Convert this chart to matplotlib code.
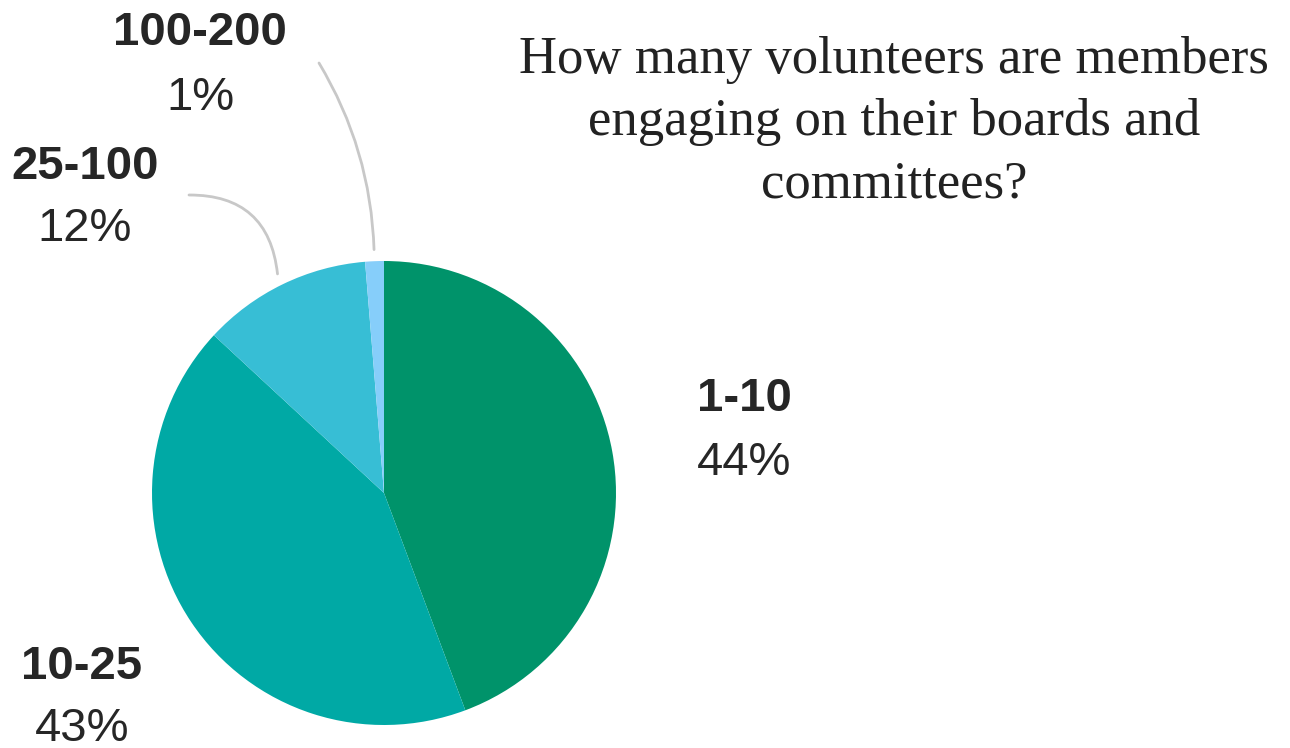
import numpy as np
import matplotlib
matplotlib.use('Agg')
import matplotlib.pyplot as plt

# data
categories = ['1-10', '10-25', '25-100', '100-200']
shares = [44.3, 42.6, 11.8, 1.3]
pct_labels = ['44%', '43%', '12%', '1%']
colors = ['#00936a', '#00a9a5', '#37bed5', '#86cefa']
title = "How many volunteers are members\nengaging on their boards and\ncommittees?"

W, H = 1290, 748
cx, cy, R = 384, 493, 232   # pie centre and radius in pixels

fig = plt.figure(figsize=(W / 100, H / 100), dpi=100)
ax = fig.add_axes([0, 0, 1, 1])

wedges, _ = ax.pie(shares, colors=colors, startangle=90, counterclock=False,
                   radius=1, wedgeprops=dict(linewidth=0))

# one data unit = one pie radius, axes spans the full figure
ax.set_xlim(-cx / R, (W - cx) / R)
ax.set_ylim((cy - H) / R, cy / R)
ax.set_aspect('auto')
ax.axis('off')


def px(x, y):
    return (x - cx) / R, (cy - y) / R


txt = '#262626'
lab_font = dict(family='Liberation Sans', fontsize=34, color=txt)

# label positions (pixel centres of the two lines)
label_pos = {
    '1-10': (697, 399, 463, 'left'),
    '10-25': (82, 667, 729, 'center'),
    '25-100': (85, 167, 229, 'center'),
    '100-200': (200, 33, 98, 'center'),
}
for cat, pct in zip(categories, pct_labels):
    x, y1, y2, ha = label_pos[cat]
    ax.text(*px(x, y1), cat, ha=ha, va='center', fontweight='bold', **lab_font)
    ax.text(*px(x, y2), pct, ha=ha, va='center', **lab_font)

# leader lines for the two small slices
leader_start = {'25-100': ((189, 195), -0.45), '100-200': ((319, 63), -0.13)}
for w, cat in zip(wedges, categories):
    if cat not in leader_start:
        continue
    ang = np.deg2rad((w.theta1 + w.theta2) / 2)
    end = (1.05 * np.cos(ang), 1.05 * np.sin(ang))
    (sx, sy), rad = leader_start[cat]
    ax.annotate('', xy=end, xytext=px(sx, sy),
                arrowprops=dict(arrowstyle='-', color='#c8c8c8', lw=2,
                                shrinkA=0, shrinkB=0,
                                connectionstyle=f'arc3,rad={rad}'))

ax.text(*px(894, 122), title, ha='center', va='center', family='Liberation Serif',
        fontsize=38, color='#222222', linespacing=1.38)

fig.savefig('out.png', dpi=100)
